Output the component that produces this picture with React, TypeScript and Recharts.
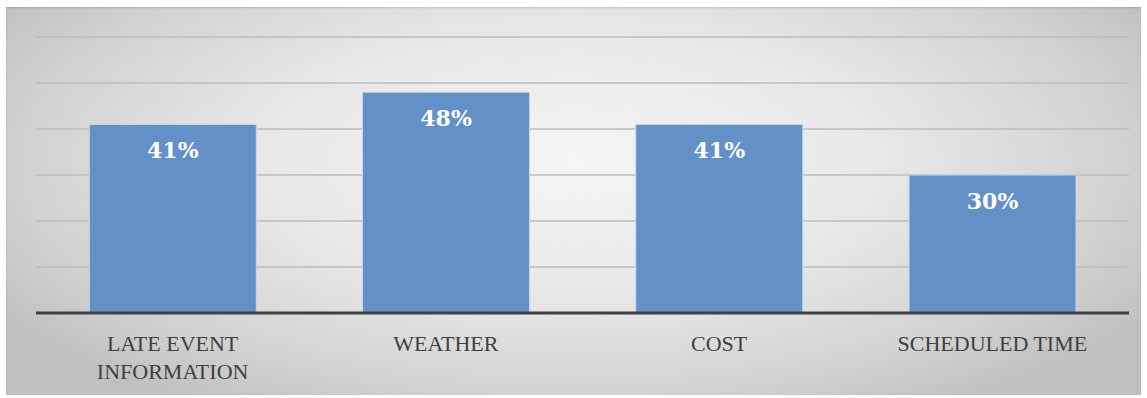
import React from "react"
import { BarChart, Bar, XAxis, YAxis, CartesianGrid, LabelList } from "recharts"

const categories = ["LATE EVENT INFORMATION", "WEATHER", "COST", "SCHEDULED TIME"]
const shares = [41, 48, 41, 30]
const yTicks = [0, 10, 20, 30, 40, 50, 60]

const data = categories.map((name, i) => ({ name, value: shares[i] }))

const serif = "'Liberation Serif', 'DejaVu Serif', serif"

function wrap(label: string, max = 14) {
  const lines: string[] = []
  let cur = ""
  for (const w of label.split(" ")) {
    const next = cur ? cur + " " + w : w
    if (next.length > max && cur) {
      lines.push(cur)
      cur = w
    } else cur = next
  }
  if (cur) lines.push(cur)
  return lines
}

function CategoryTick(props: any) {
  const { x, y, payload } = props
  const lines = wrap(String(payload.value))
  return (
    <text x={x} y={y} textAnchor="middle" fill="#404040" fontFamily={serif} fontSize={22}>
      {lines.map((l, i) => (
        <tspan key={i} x={x} y={y + 38 + i * 27.5}>
          {l}
        </tspan>
      ))}
    </text>
  )
}

function ValueLabel(props: any) {
  const { x, y, width, value } = props
  return (
    <text
      x={x + width / 2}
      y={y + 34}
      textAnchor="middle"
      fill="#ffffff"
      fontFamily="'DejaVu Serif', serif"
      fontWeight="bold"
      fontSize={22}
    >
      {value}%
    </text>
  )
}

export default function App() {
  return (
    <div style={{ position: "absolute", left: 0, top: 0, width: 1147, height: 398, background: "#fff" }}>
      <div
        style={{
          position: "absolute",
          left: 6,
          top: 7,
          width: 1135,
          height: 388,
          background:
            "radial-gradient(ellipse 60% 75% at 50% 40%, #f5f5f5 0%, #e8e8e8 45%, #d2d2d2 80%, #c0c0c0 100%)",
          boxShadow: "inset 0 1px 2px rgba(0,0,0,0.15)",
        }}
      />
      <div style={{ position: "absolute", left: 0, top: 0 }}>
        <BarChart
          width={1147}
          height={398}
          data={data}
          margin={{ top: 37, right: 18, bottom: 0, left: 36 }}
          barCategoryGap="19.5%"
        >
          <CartesianGrid horizontal vertical={false} stroke="#bcbcbc" strokeWidth={1.5} />
          <YAxis hide domain={[0, 60]} ticks={yTicks} />
          <XAxis
            dataKey="name"
            height={85}
            tickLine={false}
            tickSize={0}
            tickMargin={0}
            axisLine={{ stroke: "#404040", strokeWidth: 3 }}
            tick={<CategoryTick />}
            interval={0}
          />
          <Bar dataKey="value" fill="#6390c6" stroke="#c9d8ec" strokeWidth={1} isAnimationActive={false}>
            <LabelList dataKey="value" content={<ValueLabel />} />
          </Bar>
        </BarChart>
      </div>
    </div>
  )
}
